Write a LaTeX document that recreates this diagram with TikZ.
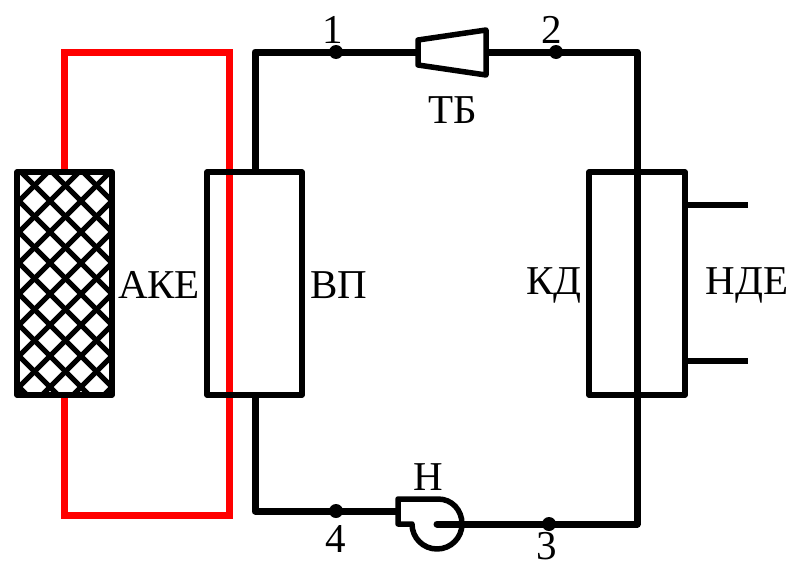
\documentclass[tikz,border=0pt]{standalone}
\usepackage{fontspec}
\setmainfont{Liberation Serif}
\begin{document}
\begin{tikzpicture}[x=1pt,y=-1pt,
  pipe/.style={line width=7pt,draw=black,line join=round},
  box/.style={line width=5.5pt,draw=black,line join=round},
  red pipe/.style={line width=7pt,draw=red,line join=miter},
  hatch/.style={line width=5pt,draw=black},
  dot/.style={circle,fill=black,inner sep=0pt,minimum size=14pt},
  lbl/.style={font=\fontsize{41pt}{41pt}\selectfont,inner sep=0pt,text=black}]
\useasboundingbox (0,0) rectangle (789,562);
% red loop
\coordinate (ra) at (64,171);
\coordinate (rb) at (64,52);
\coordinate (rc) at (229,52);
\coordinate (rd) at (229,515);
\coordinate (re) at (64,515);
\coordinate (rf) at (64,396);
\draw[red pipe] (ra) -- (rb) -- (rc) -- (rd) -- (re) -- (rf);
% AKE hatch
\begin{scope}
\clip (17,172) rectangle (112,395);
\foreach \c in {-310,-279,...,400} {
  \draw[hatch] (0,182+\c) -- (140,322+\c);
  \draw[hatch] (0,220+\c) -- (140,80+\c);
}
\end{scope}
\draw[box] (17,172) rectangle (112,395);
% exchangers
\draw[box] (207,172) rectangle (302,395);
\draw[box] (589,172) rectangle (685,395);
% coordinates
\coordinate (vt) at (255,172);
\coordinate (vb) at (255,395);
\coordinate (kt) at (637,172);
\coordinate (kb) at (637,395);
\coordinate (tl1) at (255,52);
\coordinate (tr1) at (637,52);
\coordinate (bl1) at (255,511);
\coordinate (br1) at (637,524);
\coordinate (tbl) at (418,52);
\coordinate (tbr) at (486,52);
\coordinate (pl) at (398,511);
\coordinate (pc) at (437,524);
% pipes
\draw[pipe] (vt) -- (tl1) -- (tbl);
\draw[pipe] (tbr) -- (tr1) -- (kt);
\draw[pipe] (kt) -- (kb);
\draw[pipe,line cap=round] (pc) -- (br1) -- (kb);
\draw[pipe] (vb) -- (bl1) -- (pl);
% turbine
\draw[box] (418,40) -- (486,30) -- (486,75) -- (418,65) -- cycle;
% pump
\draw[line width=5.5pt,draw=black,line join=round,line cap=round]
  (412,524) -- (398,524) -- (398,499) -- (438,499)
  .. controls (452,499) and (462,510) .. (462,524)
  arc[start angle=0,end angle=180,radius=25];
% dots
\node[dot] (p1) at (336,52) {};
\node[dot] (p2) at (556,52) {};
\node[dot] (p3) at (549,524) {};
\node[dot] (p4) at (336,511) {};
% labels
\node[lbl] (n1) at (333,30) {1};
\node[lbl] (n2) at (552,30) {2};
\node[lbl] (n3) at (547,546) {3};
\node[lbl] (n4) at (336,539) {4};
\node[lbl] (tb) at (453,110) {ТБ};
\node[lbl] (n) at (428,477) {Н};
\node[lbl] (ake) at (159,285) {АКЕ};
\node[lbl] (vp) at (339,285) {ВП};
\node[lbl] (kd) at (554,285) {КД};
\node[lbl] (nde) at (747,285) {НДЕ};
% water stubs
\coordinate (w1) at (685,205);
\coordinate (w1e) at (748,205);
\coordinate (w2) at (685,361);
\coordinate (w2e) at (748,361);
\draw[box] (w1) -- (w1e);
\draw[box] (w2) -- (w2e);
\end{tikzpicture}
\end{document}
